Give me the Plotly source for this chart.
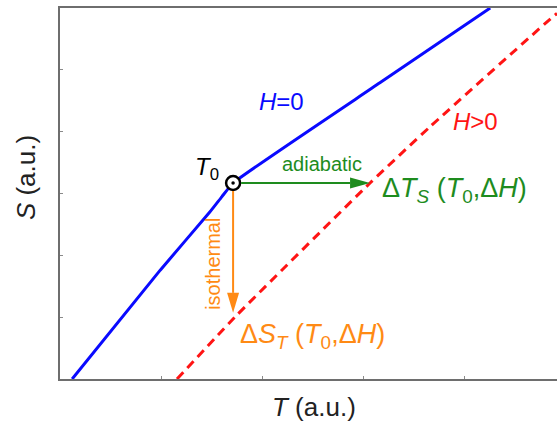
import plotly.graph_objects as go

# Entropy curves S(T) for zero and non-zero applied field (arbitrary units)
T_h0 = [0.12, 0.99, 1.48, 1.60, 1.71, 3.16, 4.25]
S_h0 = [0.00, 1.76, 2.70, 2.95, 3.17, 4.79, 6.00]

T_hp = [1.156, 1.749, 3.063, 3.656, 4.87, 4.91]
S_hp = [0.000, 1.036, 3.170, 4.080, 5.86, 5.91]

# Starting state and the end points of the two processes
T0, S0 = 1.71, 3.17
T_adiabatic_end = 3.063
S_isothermal_end = 1.07

X_RANGE = [0, 4.91]
Y_RANGE = [0, 6]
W, H = 557, 423
M = dict(l=60, r=0, t=8, b=44)

BLUE = "#0a0aff"
RED = "#ff1414"
GREEN = "#1e8c1e"
ORANGE = "#ff8a14"
FONT = "Liberation Sans, Arial, sans-serif"

# pixel -> data unit conversion
px_x = (X_RANGE[1] - X_RANGE[0]) / (W - M["l"] - M["r"])
px_y = (Y_RANGE[1] - Y_RANGE[0]) / (H - M["t"] - M["b"])

fig = go.Figure()

fig.add_trace(go.Scatter(x=T_h0, y=S_h0, mode="lines",
                         line=dict(color=BLUE, width=3, shape="spline", smoothing=0.4),
                         hoverinfo="skip", showlegend=False))
fig.add_trace(go.Scatter(x=T_hp, y=S_hp, mode="lines",
                         line=dict(color=RED, width=3, dash="9px,6px", shape="spline", smoothing=0.4),
                         hoverinfo="skip", showlegend=False))

shapes = []
# adiabatic arrow (horizontal)
head_len, head_half = 20, 5.5
shapes.append(dict(type="line", xref="x", yref="y",
                   x0=T0 + 8 * px_x, y0=S0, x1=T_adiabatic_end - head_len * px_x, y1=S0,
                   line=dict(color=GREEN, width=2)))
shapes.append(dict(type="path", xref="x", yref="y",
                   path=(f"M{T_adiabatic_end},{S0} "
                         f"L{T_adiabatic_end - head_len * px_x},{S0 + head_half * px_y} "
                         f"L{T_adiabatic_end - head_len * px_x},{S0 - head_half * px_y} Z"),
                   fillcolor=GREEN, line=dict(width=0)))
# isothermal arrow (vertical)
shapes.append(dict(type="line", xref="x", yref="y",
                   x0=T0, y0=S0 - 8 * px_y, x1=T0, y1=S_isothermal_end + head_len * px_y,
                   line=dict(color=ORANGE, width=2)))
shapes.append(dict(type="path", xref="x", yref="y",
                   path=(f"M{T0},{S_isothermal_end} "
                         f"L{T0 - 6 * px_x},{S_isothermal_end + head_len * px_y} "
                         f"L{T0 + 6 * px_x},{S_isothermal_end + head_len * px_y} Z"),
                   fillcolor=ORANGE, line=dict(width=0)))

# starting point T0: ring with a centre dot
fig.add_trace(go.Scatter(x=[T0], y=[S0], mode="markers",
                         marker=dict(symbol="circle", size=14, color="white",
                                     line=dict(width=2.5, color="black")),
                         hoverinfo="skip", showlegend=False))
fig.add_trace(go.Scatter(x=[T0], y=[S0], mode="markers",
                         marker=dict(symbol="circle", size=3.5, color="black"),
                         hoverinfo="skip", showlegend=False))

ann = []
def label(text, x, y, color, size, xanchor="center", yanchor="middle", angle=0, xref="x", yref="y"):
    ann.append(dict(text=text, x=x, y=y, xref=xref, yref=yref, showarrow=False,
                    xanchor=xanchor, yanchor=yanchor, textangle=angle,
                    font=dict(family=FONT, size=size, color=color)))

label("<i>H</i>=0", 2.19, 4.48, BLUE, 24)
label("<i>H</i>&gt;0", 4.10, 4.17, RED, 24)
label("<i>T</i><sub>0</sub>", 1.59, 3.40, "black", 24, xanchor="right")
label("adiabatic", 2.59, 3.47, GREEN, 20)
label("isothermal", 1.51, 1.86, ORANGE, 20, angle=-90)
label("Δ<i>T</i><sub><i>S</i></sub> (<i>T</i><sub>0</sub>,Δ<i>H</i>)", 3.16, 3.05, GREEN, 27, xanchor="left")
label("Δ<i>S</i><sub><i>T</i></sub> (<i>T</i><sub>0</sub>,Δ<i>H</i>)", 1.76, 0.70, ORANGE, 27, xanchor="left")

# axis titles
label("<i>T</i> (a.u.)", 0.511, -0.075, "#222222", 26, xref="paper", yref="paper")
label("<i>S</i> (a.u.)", -0.068, 0.542, "#222222", 26, angle=-90, xref="paper", yref="paper")

axis_common = dict(showgrid=False, zeroline=False, showline=True, linecolor="#6e6e6e",
                   linewidth=2, ticks="inside", ticklen=3, tickcolor="#8a8a8a",
                   tickwidth=1, showticklabels=False)

fig.update_layout(
    width=W, height=H, margin=M,
    paper_bgcolor="white", plot_bgcolor="white",
    xaxis=dict(range=X_RANGE, tickvals=[1, 2, 3, 4], mirror=True, **axis_common),
    yaxis=dict(range=Y_RANGE, tickvals=[1, 2, 3, 4, 5], **axis_common),
    shapes=shapes, annotations=ann,
)

fig.write_html("out.html")
